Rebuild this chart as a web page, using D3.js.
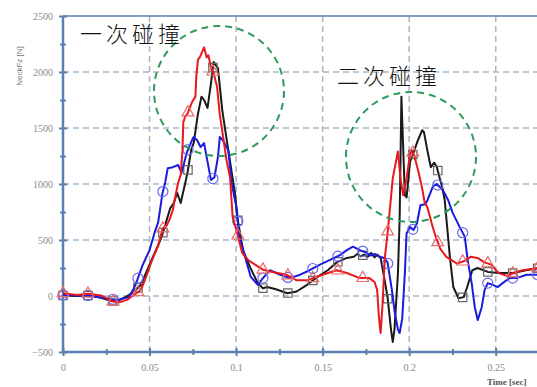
<!DOCTYPE html>
<html>
<head>
<meta charset="utf-8">
<script src="https://cdn.jsdelivr.net/npm/d3@7"></script>
<style>
  html, body { margin: 0; padding: 0; background: #fff; }
  svg { display: block; }
</style>
</head>
<body>
<svg id="chart"></svg>
<script>
// NeckFz [N] vs Time [sec], three test curves
var blackSeries = [
  [0, 5], [0.008, 0], [0.015, 5], [0.022, -15], [0.028, -45], [0.032, -40], [0.036, -10], [0.040, 25],
  [0.045, 100], [0.050, 280], [0.055, 455], [0.057, 530], [0.062, 785], [0.064, 830], [0.066, 920],
  [0.068, 830], [0.069, 900], [0.0705, 1000], [0.072, 1107], [0.074, 1300], [0.0755, 1365], [0.078, 1630],
  [0.080, 1780], [0.0815, 1750], [0.0835, 1680], [0.0855, 1900], [0.087, 2090], [0.0895, 2035],
  [0.092, 1660], [0.094, 1455], [0.0955, 1300], [0.0995, 900], [0.1005, 720], [0.104, 410], [0.108, 260],
  [0.1125, 115], [0.1155, 70], [0.118, 80], [0.123, 60], [0.1295, 25], [0.135, 40], [0.141, 100],
  [0.147, 170], [0.153, 230], [0.158, 300], [0.164, 340], [0.168, 350], [0.170, 375], [0.172, 355],
  [0.174, 370], [0.176, 350], [0.178, 385], [0.180, 345], [0.1815, 370], [0.1835, 340], [0.1855, 170],
  [0.1875, -10], [0.1895, -300], [0.1905, -410], [0.1915, -300], [0.1935, 200], [0.1945, 700],
  [0.1955, 1780], [0.1975, 900], [0.1985, 880], [0.2005, 1200], [0.2025, 1280], [0.205, 1390],
  [0.2075, 1480], [0.2085, 1465], [0.2105, 1300], [0.2125, 1150], [0.2145, 1190], [0.216, 1150],
  [0.2175, 1060], [0.219, 975], [0.2205, 860], [0.2235, 350], [0.2255, 80], [0.2285, -20], [0.2315, -10],
  [0.2335, 80], [0.2365, 230], [0.2395, 250], [0.2455, 215], [0.252, 205], [0.26, 205], [0.2675, 230],
  [0.275, 250]
];

var redSeries = [
  [0, 25], [0.008, 10], [0.0145, 20], [0.022, 5], [0.029, -50], [0.033, -55], [0.037, -35], [0.040, 0],
  [0.044, 40], [0.046, 90], [0.048, 170], [0.050, 260], [0.0525, 360], [0.055, 450], [0.0575, 600],
  [0.060, 630], [0.062, 700], [0.0635, 770], [0.0645, 860], [0.0665, 1010], [0.068, 1080], [0.069, 1300],
  [0.0695, 1550], [0.0705, 1600], [0.072, 1630], [0.0745, 1730], [0.0765, 1780], [0.077, 1960],
  [0.078, 2110], [0.079, 2130], [0.0815, 2220], [0.083, 2130], [0.084, 2150], [0.0855, 2040],
  [0.087, 1990], [0.089, 1870], [0.0905, 1630], [0.0925, 1420], [0.0945, 1210], [0.0965, 1060],
  [0.098, 705], [0.1005, 570], [0.1035, 385], [0.107, 320], [0.111, 280], [0.1155, 235], [0.121, 215],
  [0.129, 190], [0.135, 140], [0.141, 140], [0.1445, 160], [0.150, 190], [0.158, 230], [0.164, 205],
  [0.1715, 160], [0.177, 160], [0.180, 125], [0.1815, 55], [0.1825, -185], [0.1835, -330], [0.1845, -100],
  [0.186, 350], [0.1875, 560], [0.189, 800], [0.1905, 1050], [0.1935, 1290], [0.195, 1050], [0.1965, 900],
  [0.1985, 1050], [0.2005, 1270], [0.2015, 1300], [0.203, 1250], [0.2055, 1100], [0.2075, 960],
  [0.209, 830], [0.2105, 795], [0.2135, 620], [0.2155, 520], [0.218, 420], [0.2215, 350], [0.2245, 320],
  [0.2275, 290], [0.2315, 310], [0.2355, 350], [0.2395, 340], [0.2435, 300], [0.2475, 280], [0.251, 215],
  [0.2525, 200], [0.2565, 180], [0.2605, 205], [0.2655, 230], [0.275, 250]
];

var blueSeries = [
  [0, 10], [0.008, 5], [0.015, 5], [0.0245, -20], [0.0315, -35], [0.038, -10], [0.041, 70], [0.0425, 125],
  [0.046, 275], [0.050, 410], [0.053, 570], [0.055, 660], [0.0575, 920], [0.059, 1010], [0.0605, 1140],
  [0.0635, 1150], [0.0665, 1170], [0.0685, 1100], [0.0715, 1280], [0.0745, 1390], [0.0755, 1420],
  [0.0775, 1390], [0.0795, 1330], [0.0815, 1365], [0.083, 1240], [0.0855, 1035], [0.0875, 1060],
  [0.0895, 1240], [0.0906, 1420], [0.0924, 1390], [0.0955, 1300], [0.0975, 1000], [0.1005, 770],
  [0.1015, 560], [0.1045, 385], [0.1085, 170], [0.1125, 100], [0.1155, 160], [0.1195, 230], [0.1255, 190],
  [0.131, 160], [0.137, 190], [0.1425, 230], [0.1485, 280], [0.154, 320], [0.160, 365], [0.164, 410],
  [0.1675, 440], [0.1715, 410], [0.1755, 385], [0.1775, 360], [0.1800, 375], [0.1830, 350], [0.1855, 340],
  [0.1875, 300], [0.1900, 55], [0.1917, -150], [0.1935, -300], [0.1945, -330], [0.196, -200],
  [0.1975, 205], [0.1985, 560], [0.2005, 615], [0.2025, 590], [0.2045, 650], [0.2065, 810],
  [0.2093, 820], [0.2107, 860], [0.2136, 975], [0.2159, 1000], [0.2195, 945], [0.2224, 860],
  [0.2252, 740], [0.2292, 615], [0.2321, 530], [0.2338, 320], [0.2361, 115], [0.2379, -100],
  [0.2396, -215], [0.2419, -100], [0.2436, 55], [0.2454, 115], [0.2483, 100], [0.2512, 80],
  [0.2540, 115], [0.258, 160], [0.262, 160], [0.2679, 190], [0.275, 190]
];

var markerTimes = [0, 0.0144, 0.0289, 0.0433, 0.0577, 0.0722, 0.0866, 0.1010, 0.1155, 0.1299,
  0.1443, 0.1588, 0.1732, 0.1876, 0.2021, 0.2165, 0.2309, 0.2454, 0.2598, 0.2742];

var xTicks = [0, 0.05, 0.1, 0.15, 0.2, 0.25];
var xMinor = [0.025, 0.075, 0.125, 0.175, 0.225, 0.275];
var yTicks = [-500, 0, 500, 1000, 1500, 2000, 2500];
var yMinor = [-250, 250, 750, 1250, 1750, 2250];
var yGrid = [0, 500, 1000, 1500, 2000];
var xGrid = [0.05, 0.1, 0.15, 0.2, 0.25];

var notes = [
  { text: '一次碰撞', x: 80, y: 42, cx: 219, cy: 91, r: 65 },
  { text: '二次碰撞', x: 337, y: 84, cx: 411, cy: 157, r: 65 }
];

var W = 537, H = 387;
var svg = d3.select('#chart').attr('width', W).attr('height', H);

var x = d3.scaleLinear().domain([0, 0.275]).range([63, 539]);
var y = d3.scaleLinear().domain([-500, 2500]).range([352, 16]);

var axisColor = '#5a7fb0';
var gridColor = '#a9b6c6';
var labelColor = '#8a8a8a';

// grid
svg.append('g').selectAll('line').data(yGrid).enter().append('line')
  .attr('x1', 63).attr('x2', W).attr('y1', function(d) { return y(d); }).attr('y2', function(d) { return y(d); })
  .attr('stroke', gridColor).attr('stroke-width', 1.5).attr('stroke-dasharray', '6,4');
svg.append('g').selectAll('line').data(xGrid).enter().append('line')
  .attr('y1', 16).attr('y2', 352).attr('x1', function(d) { return x(d); }).attr('x2', function(d) { return x(d); })
  .attr('stroke', gridColor).attr('stroke-width', 1.5).attr('stroke-dasharray', '6,4');

// top border
svg.append('line').attr('x1', 63).attr('x2', W).attr('y1', 16).attr('y2', 16)
  .attr('stroke', axisColor).attr('stroke-width', 1.5);

// axes
var yAxis = svg.append('g').attr('transform', 'translate(63,0)')
  .call(d3.axisLeft(y).tickValues(yTicks).tickSize(4).tickPadding(6).tickFormat(d3.format('d')));
var yAxisMinor = svg.append('g').attr('transform', 'translate(63,0)')
  .call(d3.axisLeft(y).tickValues(yMinor).tickSize(3).tickFormat(''));
var xAxis = svg.append('g').attr('transform', 'translate(0,352)')
  .call(d3.axisBottom(x).tickValues(xTicks).tickSize(4).tickPadding(8).tickFormat(function(d) { return d3.format('')(d); }));
var xAxisMinor = svg.append('g').attr('transform', 'translate(0,352)')
  .call(d3.axisBottom(x).tickValues(xMinor).tickSize(3).tickFormat(''));

[yAxis, yAxisMinor, xAxis, xAxisMinor].forEach(function(g) {
  g.select('.domain').remove();
  g.selectAll('.tick line').attr('stroke', axisColor).attr('stroke-width', 2);
  g.selectAll('text').attr('fill', labelColor).attr('font-family', 'Liberation Serif')
    .attr('font-size', 10);
});
yAxis.selectAll('.tick line').attr('x1', 4);
yAxisMinor.selectAll('.tick line').attr('x1', 3);
xAxis.selectAll('.tick line').attr('y1', -4);
xAxisMinor.selectAll('.tick line').attr('y1', -3);

svg.append('line').attr('x1', 63).attr('x2', 63).attr('y1', 16).attr('y2', 353)
  .attr('stroke', axisColor).attr('stroke-width', 2.5);
svg.append('line').attr('x1', 62).attr('x2', W).attr('y1', 352).attr('y2', 352)
  .attr('stroke', axisColor).attr('stroke-width', 2.5);

// axis titles
svg.append('text').attr('transform', 'translate(22,66) rotate(-90)')
  .attr('text-anchor', 'middle').attr('font-family', 'Liberation Sans').attr('font-size', 8)
  .attr('fill', '#777').text('NeckFz [N]');
svg.append('text').attr('x', 487).attr('y', 385)
  .attr('font-family', 'Liberation Serif').attr('font-size', 9).attr('font-weight', 'bold')
  .attr('fill', '#555').text('Time [sec]');

// curves
var line = d3.line().x(function(d) { return x(d[0]); }).y(function(d) { return y(d[1]); });

function valueAt(series, t) {
  var i = d3.bisector(function(d) { return d[0]; }).left(series, t);
  if (i <= 0) return series[0][1];
  if (i >= series.length) return series[series.length - 1][1];
  var a = series[i - 1], b = series[i];
  return a[1] + (b[1] - a[1]) * (t - a[0]) / (b[0] - a[0]);
}

var curves = [
  { data: blackSeries, color: '#1a1a1a', mark: d3.symbolSquare, markColor: '#666', size: 70 },
  { data: blueSeries, color: '#1a1ae0', mark: d3.symbolCircle, markColor: '#6a6af0', size: 80 },
  { data: redSeries, color: '#e8181c', mark: d3.symbolTriangle, markColor: '#e86a6a', size: 60 }
];

curves.forEach(function(c) {
  var g = svg.append('g');
  g.append('path').datum(c.data).attr('d', line)
    .attr('fill', 'none').attr('stroke', c.color).attr('stroke-width', 2).attr('stroke-linejoin', 'round');
  g.selectAll('path.mk').data(markerTimes).enter().append('path').attr('class', 'mk')
    .attr('d', d3.symbol().type(c.mark).size(c.size))
    .attr('transform', function(t) { return 'translate(' + x(t) + ',' + y(valueAt(c.data, t)) + ')'; })
    .attr('fill', 'none').attr('stroke', c.markColor).attr('stroke-width', 1.2);
});

// annotations
notes.forEach(function(n) {
  svg.append('circle').attr('cx', n.cx).attr('cy', n.cy).attr('r', n.r)
    .attr('fill', 'none').attr('stroke', '#2e9a5c').attr('stroke-width', 2).attr('stroke-dasharray', '7,5');
  svg.append('text').attr('x', n.x).attr('y', n.y)
    .attr('font-family', 'Noto Sans CJK SC').attr('font-size', 22).attr('font-weight', 300)
    .attr('letter-spacing', 4).attr('fill', '#111').text(n.text);
});
</script>
</body>
</html>
